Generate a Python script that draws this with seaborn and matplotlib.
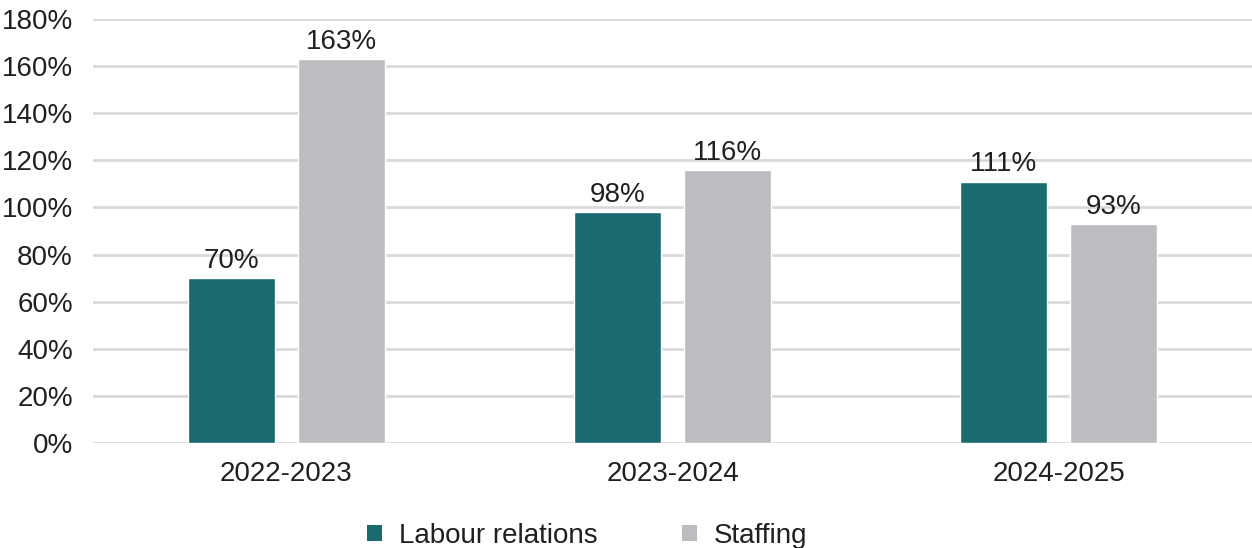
import matplotlib
matplotlib.use("Agg")
import matplotlib.pyplot as plt
import seaborn as sns
import pandas as pd
from matplotlib.patches import Patch

years = ["2022-2023", "2023-2024", "2024-2025"]
labour_relations = [70, 98, 111]
staffing = [163, 116, 93]
series_names = ["Labour relations", "Staffing"]
colors = ["#1a6b70", "#bcbdc0"]
y_ticks = [0, 20, 40, 60, 80, 100, 120, 140, 160, 180]

df = pd.DataFrame({
    "year": years * 2,
    "value": labour_relations + staffing,
    "series": [series_names[0]] * 3 + [series_names[1]] * 3,
})

sns.set_theme(style="white")
plt.rcParams["font.family"] = ["Liberation Sans", "DejaVu Sans"]
text_color = "#231f20"
fs = 20

fig = plt.figure(figsize=(12.52, 5.48), dpi=100)
ax = fig.add_axes([0.0743, 0.1916, 0.9257, 0.7737])

sns.barplot(data=df, x="year", y="value", hue="series", palette=colors,
            width=0.57, gap=0.21, ax=ax, legend=False, saturation=1)

ax.set_ylim(0, 180)
ax.set_xlim(-0.5, 2.5)
ax.set_yticks(y_ticks)
ax.set_yticklabels([f"{t}%" for t in y_ticks])
ax.yaxis.grid(True, color="#d9d9d9", linewidth=2)
ax.set_axisbelow(True)
for s in ax.spines.values():
    s.set_visible(False)
ax.set_xlabel("")
ax.set_ylabel("")
ax.tick_params(axis="y", length=0, pad=14.5, labelsize=fs, labelcolor=text_color)
ax.tick_params(axis="x", length=0, pad=13, labelsize=fs, labelcolor=text_color)

for cont in ax.containers:
    ax.bar_label(cont, labels=[f"{v:.0f}%" for v in cont.datavalues],
                 padding=3, fontsize=fs, color=text_color)

handles = [Patch(facecolor=c, edgecolor="none") for c in colors]
fig.legend(handles, series_names, loc="center", bbox_to_anchor=(0.469, 0.022),
           ncol=2, frameon=False, fontsize=fs, handlelength=0.55, handleheight=0.55,
           handletextpad=0.6, columnspacing=3.05, labelcolor=text_color)

fig.savefig("out.png", dpi=100)
